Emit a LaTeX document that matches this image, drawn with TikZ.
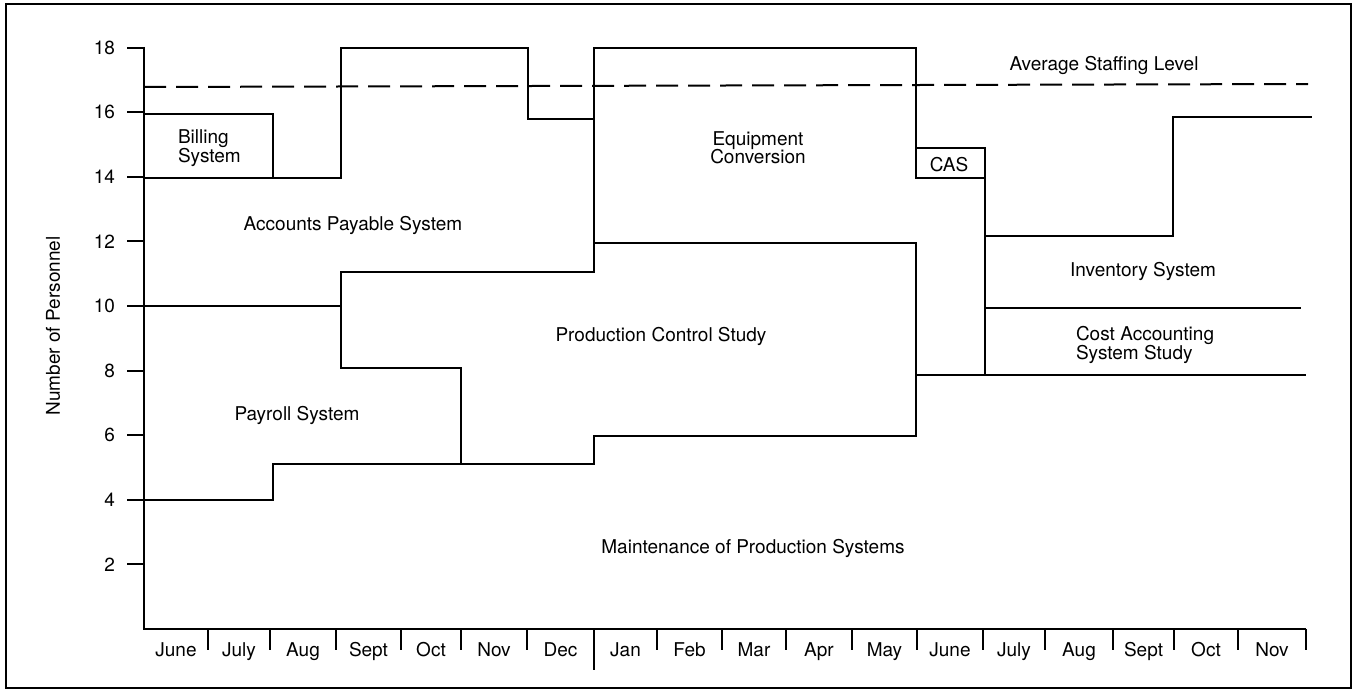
\documentclass[tikz,border=0pt]{standalone}
\usepackage{fontspec}
\setmainfont{TeX Gyre Heros}
\begin{document}
\begin{tikzpicture}[x=0.5pt,y=-0.5pt,
  every path/.style={line width=1pt},
  stepline/.style={line width=1pt, line join=miter},
  avgline/.style={line width=1pt, dash pattern=on 11pt off 5pt},
  lbl/.style={font=\fontsize{9.5}{9.2}\selectfont, inner sep=0pt},
  axislbl/.style={font=\fontsize{9.5}{9.2}\selectfont, inner sep=0pt}]
\useasboundingbox (0,0) rectangle (1353,690);
\draw[line width=1.3pt] (6,4) rectangle (1351,688);
% axes
\coordinate (top) at (144,47);
\coordinate (origin) at (144,629);
\coordinate (xend) at (1306,629);
\draw[stepline] (top) -- (origin) -- (xend);
% y ticks and labels
\foreach \v in {2,4,...,18}{
  \pgfmathsetmacro{\yy}{629-32.3*\v}
  \draw (127,\yy) -- (144,\yy);
  \node[axislbl, anchor=east] (y\v) at (116,\yy) {\v};
}
\node[axislbl, rotate=90] (ytitle) at (53,326) {Number of Personnel};
% month ticks and labels
\foreach \a/\b/\t [count=\i] in {144/208/June,208/270/July,270/336/Aug,336/401/Sept,401/461/Oct,461/527/Nov,527/594/Dec,594/657/Jan,657/722/Feb,722/786/Mar,786/852/Apr,852/917/May,917/983/June,983/1045/July,1045/1113/Aug,1113/1174/Sept,1174/1238/Oct,1238/1306/Nov}{
  \draw (\b,629) -- (\b,650);
  \node[axislbl, anchor=base] (m\i) at ({(\a+\b)/2},656) {\t};
}
\draw (594,629) -- (594,670);
% average staffing level
\draw[avgline] (144,87) -- (1308,84);
% step lines
\draw[stepline] (144,114) -- (273,114) -- (273,178);
\draw[stepline] (144,178) -- (341,178) -- (341,48) -- (528,48) -- (528,119) -- (594,119);
\draw[stepline] (144,306) -- (341,306);
\draw[stepline] (461,464) -- (461,368) -- (341,368) -- (341,272) -- (594,272) -- (594,48) -- (916,48) -- (916,178) -- (985,178);
\draw[stepline] (594,243) -- (916,243) -- (916,436) -- (594,436) -- (594,464) -- (273,464) -- (273,500) -- (144,500);
\draw[stepline] (916,148) -- (985,148) -- (985,375);
\draw[stepline] (916,375) -- (1306,375);
\draw[stepline] (985,308) -- (1301,308);
\draw[stepline] (985,236) -- (1173,236) -- (1173,117) -- (1312,117);
% labels
\node[lbl, anchor=west, align=left] (billing) at (177,148) {Billing\\System};
\node[lbl, anchor=base] (ap) at (353,230) {Accounts Payable System};
\node[lbl, anchor=base] (payroll) at (297,420) {Payroll System};
\node[lbl, anchor=base] (pcs) at (661,341) {Production Control Study};
\node[lbl, align=center] (equip) at (758,148) {Equipment\\Conversion};
\node[lbl, anchor=base] (avg) at (1104,71) {Average Staffing Level};
\node[lbl, anchor=base] (cas) at (949,171) {CAS};
\node[lbl, anchor=base] (inv) at (1143,276) {Inventory System};
\node[lbl, anchor=west, align=left] (cost) at (1075,345) {Cost Accounting\\System Study};
\node[lbl, anchor=base] (maint) at (753,553) {Maintenance of Production Systems};
\end{tikzpicture}
\end{document}
